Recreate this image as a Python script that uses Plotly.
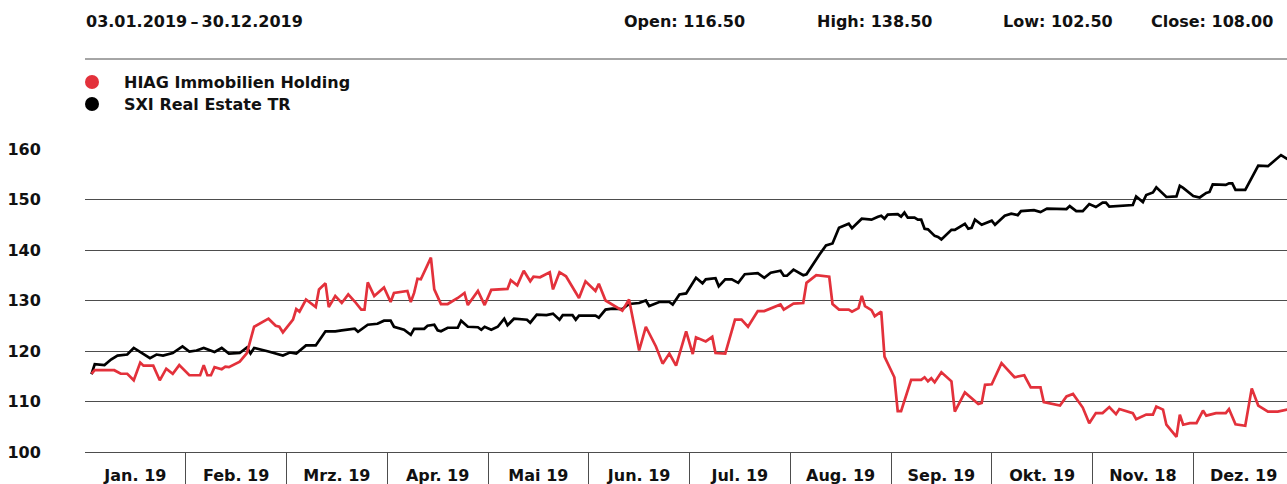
import calendar
import plotly.graph_objects as go

# ---------------- data ----------------
month_labels = ["Jan. 19", "Feb. 19", "Mrz. 19", "Apr. 19", "Mai 19", "Jun. 19",
                "Jul. 19", "Aug. 19", "Sep. 19", "Okt. 19", "Nov. 18", "Dez. 19"]
y_ticks = [100, 110, 120, 130, 140, 150, 160]

hiag_dates = [
    "2019-01-03", "2019-01-04", "2019-01-10", "2019-01-12", "2019-01-14", "2019-01-16",
    "2019-01-18", "2019-01-19", "2019-01-22", "2019-01-24", "2019-01-26", "2019-01-28",
    "2019-01-30", "2019-02-02", "2019-02-05", "2019-02-06", "2019-02-07", "2019-02-08",
    "2019-02-09", "2019-02-11", "2019-02-12", "2019-02-13", "2019-02-16", "2019-02-18",
    "2019-02-20", "2019-02-24", "2019-02-26", "2019-02-27", "2019-02-28", "2019-03-03",
    "2019-03-04", "2019-03-05", "2019-03-07", "2019-03-10", "2019-03-11", "2019-03-13",
    "2019-03-14", "2019-03-16", "2019-03-18", "2019-03-20", "2019-03-22", "2019-03-24",
    "2019-03-25", "2019-03-26", "2019-03-28", "2019-03-31", "2019-04-02", "2019-04-03",
    "2019-04-07", "2019-04-08", "2019-04-09", "2019-04-10", "2019-04-11", "2019-04-14",
    "2019-04-15", "2019-04-17", "2019-04-19", "2019-04-22", "2019-04-24", "2019-04-25",
    "2019-04-28", "2019-04-30", "2019-05-02", "2019-05-07", "2019-05-08", "2019-05-10",
    "2019-05-12", "2019-05-14", "2019-05-15", "2019-05-17", "2019-05-20", "2019-05-21",
    "2019-05-23", "2019-05-25", "2019-05-29", "2019-05-31", "2019-06-03", "2019-06-04",
    "2019-06-06", "2019-06-11", "2019-06-13", "2019-06-16", "2019-06-18", "2019-06-21",
    "2019-06-23", "2019-06-25", "2019-06-27", "2019-06-30", "2019-07-02", "2019-07-03",
    "2019-07-06", "2019-07-08", "2019-07-09", "2019-07-12", "2019-07-15", "2019-07-17",
    "2019-07-19", "2019-07-22", "2019-07-24", "2019-07-29", "2019-07-30", "2019-08-02",
    "2019-08-05", "2019-08-06", "2019-08-09", "2019-08-13", "2019-08-14", "2019-08-16",
    "2019-08-19", "2019-08-20", "2019-08-22", "2019-08-23", "2019-08-24", "2019-08-26",
    "2019-08-27", "2019-08-29", "2019-08-30", "2019-09-02", "2019-09-03", "2019-09-04",
    "2019-09-07", "2019-09-10", "2019-09-11", "2019-09-12", "2019-09-13", "2019-09-14",
    "2019-09-16", "2019-09-19", "2019-09-20", "2019-09-23", "2019-09-27", "2019-09-28",
    "2019-09-29", "2019-10-01", "2019-10-04", "2019-10-08", "2019-10-11", "2019-10-13",
    "2019-10-16", "2019-10-17", "2019-10-22", "2019-10-24", "2019-10-26", "2019-10-29",
    "2019-10-31", "2019-11-02", "2019-11-04", "2019-11-06", "2019-11-08", "2019-11-09",
    "2019-11-13", "2019-11-14", "2019-11-17", "2019-11-19", "2019-11-20", "2019-11-22",
    "2019-11-23", "2019-11-26", "2019-11-27", "2019-11-28", "2019-11-30", "2019-12-02",
    "2019-12-04", "2019-12-05", "2019-12-08", "2019-12-11", "2019-12-12", "2019-12-14",
    "2019-12-17", "2019-12-19", "2019-12-21", "2019-12-24", "2019-12-27", "2019-12-30",
]
hiag_values = [
    115.5, 116.2, 116.2, 115.5, 115.5, 114.2,
    117.7, 117.1, 117.1, 114.2, 116.5, 115.5,
    117.2, 115.2, 115.2, 117.2, 115.2, 115.2,
    116.8, 116.4, 116.9, 116.8, 117.9, 119.6,
    124.8, 126.4, 125.0, 124.8, 123.7, 126.2,
    128.3, 127.8, 130.2, 128.7, 132.2, 133.4,
    128.7, 130.9, 129.5, 131.2, 129.8, 128.2,
    128.2, 133.6, 130.9, 132.6, 129.7, 131.5,
    131.9, 129.7, 131.5, 134.3, 134.2, 138.5,
    132.2, 129.3, 129.3, 130.5, 131.5, 129.1,
    131.9, 129.1, 132.1, 132.3, 134.0, 133.0,
    135.9, 133.8, 134.7, 134.6, 135.6, 132.2,
    135.6, 134.8, 130.5, 133.8, 131.9, 133.3,
    130.0, 128.0, 130.2, 120.1, 124.8, 120.9,
    117.5, 119.5, 117.1, 123.9, 119.4, 122.7,
    121.9, 122.8, 119.6, 119.5, 126.2, 126.2,
    124.8, 127.9, 127.9, 129.2, 128.2, 129.4,
    129.5, 133.5, 135.0, 134.7, 129.3, 128.2,
    128.2, 127.8, 128.5, 130.9, 128.9, 128.1,
    126.9, 127.8, 118.9, 114.8, 108.1, 108.1,
    114.3, 114.3, 114.8, 114.0, 114.6, 113.8,
    115.8, 114.0, 108.0, 111.8, 109.5, 109.7,
    113.3, 113.4, 117.6, 114.8, 115.2, 112.8,
    112.8, 109.9, 109.2, 111.0, 111.5, 108.8,
    105.7, 107.7, 107.7, 108.9, 107.5, 108.5,
    107.7, 106.5, 107.4, 107.4, 109.0, 108.4,
    105.4, 103.0, 107.4, 105.4, 105.7, 105.7,
    108.2, 107.2, 107.7, 107.7, 108.5, 105.5,
    105.2, 112.6, 109.2, 108.0, 108.0, 108.4,
]

sxi_dates = [
    "2019-01-03", "2019-01-04", "2019-01-07", "2019-01-09", "2019-01-11", "2019-01-14",
    "2019-01-16", "2019-01-19", "2019-01-21", "2019-01-23", "2019-01-25", "2019-01-28",
    "2019-01-31", "2019-02-02", "2019-02-04", "2019-02-06", "2019-02-09", "2019-02-11",
    "2019-02-13", "2019-02-16", "2019-02-18", "2019-02-19", "2019-02-20", "2019-02-24",
    "2019-02-28", "2019-03-02", "2019-03-04", "2019-03-07", "2019-03-10", "2019-03-13",
    "2019-03-16", "2019-03-18", "2019-03-22", "2019-03-23", "2019-03-26", "2019-03-29",
    "2019-03-31", "2019-04-02", "2019-04-03", "2019-04-06", "2019-04-08", "2019-04-09",
    "2019-04-12", "2019-04-13", "2019-04-15", "2019-04-16", "2019-04-17", "2019-04-19",
    "2019-04-22", "2019-04-23", "2019-04-25", "2019-04-28", "2019-04-29", "2019-04-30",
    "2019-05-02", "2019-05-04", "2019-05-06", "2019-05-07", "2019-05-09", "2019-05-13",
    "2019-05-14", "2019-05-16", "2019-05-19", "2019-05-21", "2019-05-23", "2019-05-24",
    "2019-05-27", "2019-05-28", "2019-05-29", "2019-06-03", "2019-06-04", "2019-06-06",
    "2019-06-08", "2019-06-11", "2019-06-13", "2019-06-16", "2019-06-18", "2019-06-19",
    "2019-06-22", "2019-06-25", "2019-06-26", "2019-06-28", "2019-06-30", "2019-07-03",
    "2019-07-05", "2019-07-06", "2019-07-09", "2019-07-10", "2019-07-12", "2019-07-14",
    "2019-07-16", "2019-07-18", "2019-07-22", "2019-07-24", "2019-07-26", "2019-07-29",
    "2019-07-30", "2019-07-31", "2019-08-02", "2019-08-05", "2019-08-06", "2019-08-10",
    "2019-08-12", "2019-08-14", "2019-08-16", "2019-08-19", "2019-08-20", "2019-08-23",
    "2019-08-26", "2019-08-28", "2019-08-29", "2019-08-30", "2019-08-31", "2019-09-03",
    "2019-09-04", "2019-09-05", "2019-09-06", "2019-09-08", "2019-09-09", "2019-09-10",
    "2019-09-11", "2019-09-12", "2019-09-14", "2019-09-15", "2019-09-16", "2019-09-19",
    "2019-09-20", "2019-09-23", "2019-09-24", "2019-09-25", "2019-09-26", "2019-09-28",
    "2019-09-30", "2019-10-01", "2019-10-02", "2019-10-05", "2019-10-07", "2019-10-09",
    "2019-10-10", "2019-10-14", "2019-10-16", "2019-10-18", "2019-10-24", "2019-10-25",
    "2019-10-27", "2019-10-29", "2019-10-31", "2019-11-02", "2019-11-04", "2019-11-05",
    "2019-11-06", "2019-11-13", "2019-11-14", "2019-11-16", "2019-11-17", "2019-11-19",
    "2019-11-20", "2019-11-23", "2019-11-26", "2019-11-27", "2019-11-28", "2019-12-01",
    "2019-12-03", "2019-12-05", "2019-12-06", "2019-12-07", "2019-12-11", "2019-12-12",
    "2019-12-13", "2019-12-14", "2019-12-17", "2019-12-21", "2019-12-24", "2019-12-28",
    "2019-12-30",
]
sxi_values = [
    115.4, 117.4, 117.2, 118.3, 119.1, 119.3,
    120.6, 119.5, 118.6, 119.3, 119.1, 119.6,
    120.9, 119.9, 120.1, 120.6, 119.8, 120.6,
    119.5, 119.6, 120.7, 119.5, 120.6, 119.9,
    119.1, 119.7, 119.5, 121.1, 121.1, 123.9,
    123.9, 124.1, 124.4, 123.8, 125.2, 125.4,
    126.0, 126.0, 124.8, 124.2, 123.2, 124.4,
    124.4, 125.0, 125.2, 124.1, 123.9, 124.6,
    124.6, 126.0, 124.8, 124.7, 124.2, 124.8,
    124.2, 124.8, 126.4, 125.1, 126.4, 126.2,
    125.6, 127.2, 127.1, 127.4, 126.2, 127.1,
    127.1, 126.2, 127.0, 127.0, 126.6, 128.2,
    128.4, 128.3, 129.3, 129.5, 130.0, 128.9,
    129.7, 129.7, 129.2, 131.2, 131.4, 134.5,
    133.4, 134.2, 134.4, 132.8, 134.2, 134.2,
    133.5, 135.2, 135.4, 134.5, 135.5, 135.9,
    134.9, 134.9, 136.1, 135.0, 135.2, 139.1,
    140.9, 141.3, 144.4, 145.2, 144.3, 146.2,
    146.0, 146.6, 146.8, 146.2, 147.0, 147.1,
    146.6, 147.4, 146.4, 146.4, 146.0, 146.0,
    144.2, 144.1, 142.8, 142.6, 142.1, 144.0,
    144.0, 145.2, 144.2, 144.4, 146.0, 145.0,
    145.6, 145.8, 145.0, 146.8, 147.2, 146.9,
    147.7, 147.9, 147.5, 148.2, 148.1, 148.7,
    147.7, 147.7, 149.1, 148.5, 149.4, 149.4,
    148.6, 148.9, 150.6, 149.5, 150.9, 151.4,
    152.4, 150.5, 150.6, 152.7, 152.3, 150.7,
    150.4, 151.3, 151.5, 153.0, 152.9, 153.2,
    153.2, 151.9, 151.9, 156.7, 156.6, 158.8,
    158.0,
]

header_period = "03.01.2019\u2009\u2013\u200930.12.2019"
header_stats = ["Open: 116.50", "High: 138.50", "Low: 102.50", "Close: 108.00"]
series_names = ["HIAG Immobilien Holding", "SXI Real Estate TR"]
series_colors = ["#e3313b", "#000000"]


def month_pos(d):
    """Position of a date on the month axis (each month has equal width)."""
    y, m, day = (int(p) for p in d.split("-"))
    ndays = calendar.monthrange(y, m)[1]
    return (m - 1) + (day - 1) / ndays


# ---------------- layout geometry ----------------
W, H = 1287, 484
L, R, T, B = 85, 0, 149, 32
PLOT_W = W - L - R
PLOT_H = H - T - B
MONTH_PX = 100.75
FONT = "DejaVu Sans"
TXT = "#111111"
GRID = "#4d4d4d"


def px(x):
    return (x - L) / PLOT_W


def py(y):
    return (H - B - y) / PLOT_H


def tfont(size=16):
    return dict(family=FONT, size=size, color=TXT, weight="bold")


fig = go.Figure()

fig.add_trace(go.Scatter(
    x=[month_pos(d) for d in sxi_dates], y=sxi_values, mode="lines",
    name=series_names[1], line=dict(color=series_colors[1], width=2.7),
    showlegend=False, hoverinfo="skip"))
fig.add_trace(go.Scatter(
    x=[month_pos(d) for d in hiag_dates], y=hiag_values, mode="lines",
    name=series_names[0], line=dict(color=series_colors[0], width=2.7),
    showlegend=False, hoverinfo="skip"))

annotations = []
shapes = []

# header
annotations.append(dict(text=header_period, x=px(84), y=py(21), xref="paper", yref="paper",
                        xanchor="left", yanchor="middle", showarrow=False, font=tfont(16)))
stat_x = [622, 815, 1001, 1149]
for s, sx in zip(header_stats, stat_x):
    annotations.append(dict(text=s, x=px(sx), y=py(21), xref="paper", yref="paper",
                            xanchor="left", yanchor="middle", showarrow=False, font=tfont(16)))
shapes.append(dict(type="line", xref="paper", yref="paper", x0=0, x1=1,
                   y0=py(59), y1=py(59), line=dict(color=GRID, width=1)))

# legend
for i, (name, col) in enumerate(zip(series_names, series_colors)):
    cy = 82 + 22 * i
    shapes.append(dict(type="circle", xref="paper", yref="paper",
                       x0=px(85), x1=px(99), y0=py(cy + 7), y1=py(cy - 7),
                       fillcolor=col, line=dict(width=0)))
    annotations.append(dict(text=name, x=px(122), y=py(cy), xref="paper", yref="paper",
                            xanchor="left", yanchor="middle", showarrow=False, font=tfont(16)))

fig.update_layout(
    width=W, height=H,
    margin=dict(l=L, r=R, t=T, b=B, pad=0),
    paper_bgcolor="white", plot_bgcolor="white",
    showlegend=False,
    annotations=annotations, shapes=shapes,
    font=tfont(16),
    xaxis=dict(
        range=[0, PLOT_W / MONTH_PX],
        tickmode="array",
        tickvals=[i + 0.5 for i in range(12)],
        ticktext=month_labels,
        ticks="outside", ticklen=9, tickcolor="rgba(0,0,0,0)",
        showgrid=False, zeroline=False,
        showline=True, linecolor=GRID, linewidth=1,
        minor=dict(tickmode="array", tickvals=list(range(1, 12)), ticks="outside",
                   ticklen=34, tickcolor=GRID, tickwidth=1, showgrid=False),
        tickfont=tfont(16),
        fixedrange=True,
    ),
    yaxis=dict(
        range=[100, 160],
        tickmode="array", tickvals=y_ticks,
        ticks="outside", ticklen=40, tickcolor="rgba(0,0,0,0)",
        showgrid=True, gridcolor=GRID, gridwidth=1,
        zeroline=False, showline=False,
        tickfont=tfont(16),
        fixedrange=True,
    ),
)

fig.write_html("out.html", config=dict(displayModeBar=False),
               post_script="document.body.style.margin='0';document.body.style.overflow='hidden';")
